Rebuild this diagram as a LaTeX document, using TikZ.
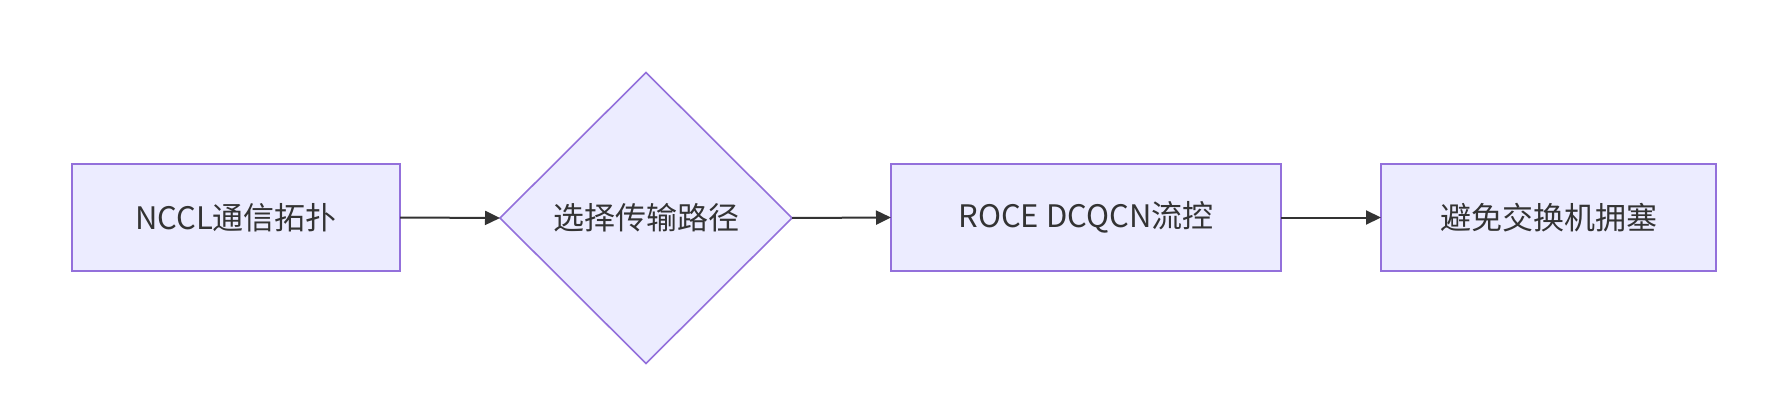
\documentclass[tikz,border=0pt]{standalone}
\usepackage{fontspec}
\setmainfont{Noto Sans CJK SC}
\usetikzlibrary{arrows.meta,shapes.geometric}
\definecolor{nodefill}{HTML}{ECECFF}
\definecolor{nodeline}{HTML}{9370DB}
\definecolor{ink}{HTML}{333333}
\begin{document}
\begin{tikzpicture}[x=1pt,y=-1pt,
  box/.style={draw=nodeline,fill=nodefill,line width=2pt,inner sep=0pt,outer sep=0pt,
    minimum height=107pt,text=ink,font=\fontsize{31}{36}\selectfont},
  choice/.style={diamond,aspect=1,draw=nodeline,fill=nodefill,line width=1.6pt,inner sep=0pt,outer sep=0pt,
    minimum width=292pt,minimum height=291pt,text=ink,font=\fontsize{31}{36}\selectfont},
  link/.style={draw=ink,line width=2pt,-{Triangle[length=15pt,width=14pt]}}]
\useasboundingbox (0,0) rectangle (1771,420);
\node[box,minimum width=328pt] (a) at (236,217.5) {NCCL通信拓扑};
\node[choice] (b) at (646,218) {选择传输路径};
\node[box,minimum width=390pt] (c) at (1086,217.5) {ROCE DCQCN流控};
\node[box,minimum width=335pt] (d) at (1548.5,217.5) {避免交换机拥塞};
\draw[link] (a.east) -- (b.west);
\draw[link] (b.east) -- (c.west);
\draw[link] (c.east) -- (d.west);
\end{tikzpicture}
\end{document}
